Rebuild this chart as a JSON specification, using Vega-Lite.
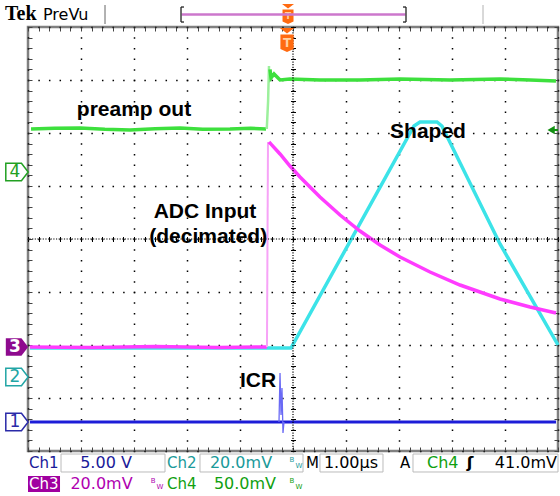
{
  "$schema": "https://vega.github.io/schema/vega-lite/v6.json",
  "width": 530,
  "height": 424,
  "autosize": "none",
  "padding": {"left": 28, "top": 27, "right": 2, "bottom": 45},
  "background": "white",
  "config": {"view": {"stroke": "#808080", "strokeWidth": 2.5}},
  "datasets": {
    "ch4a": [
      {"x": 0.057, "y": 2.075}, {"x": 0.5, "y": 2.09}, {"x": 0.981, "y": 2.094}, {"x": 1.45, "y": 2.07}, {"x": 1.925, "y": 2.057},
      {"x": 2.4, "y": 2.08}, {"x": 2.868, "y": 2.094}, {"x": 3.3, "y": 2.07}, {"x": 3.811, "y": 2.075}, {"x": 4.2, "y": 2.09},
      {"x": 4.491, "y": 2.075}
    ],
    "ch4e": [
      {"x": 4.505, "y": 2.075}, {"x": 4.53, "y": 2.6}, {"x": 4.547, "y": 3.264}
    ],
    "ch4b": [
      {"x": 4.566, "y": 3.2}, {"x": 4.585, "y": 3.038}, {"x": 4.642, "y": 3.113}, {"x": 4.755, "y": 3.0}, {"x": 4.943, "y": 3.019},
      {"x": 5.509, "y": 3.0}, {"x": 6.264, "y": 3.0}, {"x": 7.019, "y": 3.019}, {"x": 7.962, "y": 3.0}, {"x": 8.906, "y": 3.019},
      {"x": 9.472, "y": 3.0}, {"x": 9.962, "y": 2.981}
    ],
    "ch3a": [
      {"x": 0.038, "y": -2.038}, {"x": 1.2, "y": -2.045}, {"x": 2.4, "y": -2.03}, {"x": 3.6, "y": -2.045}, {"x": 4.509, "y": -2.038}
    ],
    "ch3e": [
      {"x": 4.509, "y": -2.038}, {"x": 4.528, "y": 1.83}
    ],
    "ch3b": [
      {"x": 4.547, "y": 1.83}, {"x": 4.585, "y": 1.79}, {"x": 4.755, "y": 1.604}, {"x": 4.943, "y": 1.377}, {"x": 5.132, "y": 1.17},
      {"x": 5.509, "y": 0.792}, {"x": 5.887, "y": 0.453}, {"x": 6.264, "y": 0.151}, {"x": 6.642, "y": -0.113}, {"x": 7.019, "y": -0.34},
      {"x": 7.585, "y": -0.623}, {"x": 8.151, "y": -0.868}, {"x": 8.906, "y": -1.132}, {"x": 9.472, "y": -1.283}, {"x": 9.962, "y": -1.396}
    ],
    "ch2": [
      {"x": 0.038, "y": -2.057}, {"x": 4.962, "y": -2.057}, {"x": 7.283, "y": 2.132}, {"x": 7.396, "y": 2.208},
      {"x": 7.717, "y": 2.208}, {"x": 7.81, "y": 2.132}, {"x": 8.906, "y": -0.094}, {"x": 10.0, "y": -2.0}
    ],
    "ch1": [
      {"x": 0.038, "y": -3.453}, {"x": 9.962, "y": -3.453}
    ],
    "icr": [
      {"x": 4.736, "y": -3.453}, {"x": 4.755, "y": -2.528}, {"x": 4.774, "y": -3.321}, {"x": 4.792, "y": -2.811},
      {"x": 4.811, "y": -3.66}, {"x": 4.83, "y": -3.453}
    ]
  },
  "resolve": {"axis": {"x": "independent", "y": "independent"}},
  "layer": [
    {
      "data": {"name": "ch2"},
      "mark": {"type": "line", "color": "#3ce3e8", "strokeWidth": 3.5},
      "encoding": {
        "x": {"field": "x", "type": "quantitative", "scale": {"domain": [0, 10], "nice": false, "zero": false},
          "axis": {"values": [0,1,2,3,4,5,6,7,8,9,10], "grid": true, "gridDash": [1.5, 9.1], "gridDashOffset": 0.75, "gridColor": "#000", "gridOpacity": 1, "gridWidth": 1.5, "domain": false, "ticks": false, "labels": false, "title": null}},
        "y": {"field": "y", "type": "quantitative", "scale": {"domain": [-4, 4], "nice": false, "zero": false},
          "axis": {"values": [-4,-3,-2,-1,0,1,2,3,4], "grid": true, "gridDash": [1.5, 9.1], "gridDashOffset": 0.75, "gridColor": "#000", "gridOpacity": 1, "gridWidth": 1.5, "domain": false, "ticks": false, "labels": false, "title": null}}
      }
    },
    {
      "data": {"name": "ch3a"},
      "mark": {"type": "line", "color": "#ff3cff", "strokeWidth": 3.5},
      "encoding": {
        "x": {"field": "x", "type": "quantitative", "scale": {"domain": [0, 10], "nice": false, "zero": false},
          "axis": {"orient": "top", "tickCount": 50, "ticks": true, "tickSize": -4, "tickColor": "#444", "tickWidth": 1, "domain": false, "labels": false, "grid": false, "title": null}},
        "y": {"field": "y", "type": "quantitative", "scale": {"domain": [-4, 4], "nice": false, "zero": false},
          "axis": {"orient": "right", "tickCount": 40, "ticks": true, "tickSize": -4, "tickColor": "#444", "tickWidth": 1, "domain": false, "labels": false, "grid": false, "title": null}}
      }
    },
    {
      "data": {"name": "ch3e"},
      "mark": {"type": "line", "color": "#f7a3f7", "strokeWidth": 2},
      "encoding": {
        "x": {"field": "x", "type": "quantitative", "scale": {"domain": [0, 10], "nice": false, "zero": false}, "axis": null},
        "y": {"field": "y", "type": "quantitative", "scale": {"domain": [-4, 4], "nice": false, "zero": false}, "axis": null}
      }
    },
    {
      "data": {"name": "ch3b"},
      "mark": {"type": "line", "color": "#ff3cff", "strokeWidth": 3.5},
      "encoding": {
        "x": {"field": "x", "type": "quantitative", "scale": {"domain": [0, 10], "nice": false, "zero": false}, "axis": null},
        "y": {"field": "y", "type": "quantitative", "scale": {"domain": [-4, 4], "nice": false, "zero": false}, "axis": null}
      }
    },
    {
      "data": {"name": "ch4a"},
      "mark": {"type": "line", "color": "#3de03d", "strokeWidth": 3.5},
      "encoding": {
        "x": {"field": "x", "type": "quantitative", "scale": {"domain": [0, 10], "nice": false, "zero": false},
          "axis": {"orient": "bottom", "tickCount": 50, "ticks": true, "tickSize": -4, "tickColor": "#444", "tickWidth": 1, "domain": false, "labels": false, "grid": false, "title": null}},
        "y": {"field": "y", "type": "quantitative", "scale": {"domain": [-4, 4], "nice": false, "zero": false},
          "axis": {"orient": "left", "tickCount": 40, "ticks": true, "tickSize": -4, "tickColor": "#444", "tickWidth": 1, "domain": false, "labels": false, "grid": false, "title": null}}
      }
    },
    {
      "data": {"name": "ch4e"},
      "mark": {"type": "line", "color": "#9cf09c", "strokeWidth": 2.5},
      "encoding": {
        "x": {"field": "x", "type": "quantitative", "scale": {"domain": [0, 10], "nice": false, "zero": false}, "axis": null},
        "y": {"field": "y", "type": "quantitative", "scale": {"domain": [-4, 4], "nice": false, "zero": false}, "axis": null}
      }
    },
    {
      "data": {"name": "ch4b"},
      "mark": {"type": "line", "color": "#3de03d", "strokeWidth": 3.5},
      "encoding": {
        "x": {"field": "x", "type": "quantitative", "scale": {"domain": [0, 10], "nice": false, "zero": false}, "axis": null},
        "y": {"field": "y", "type": "quantitative", "scale": {"domain": [-4, 4], "nice": false, "zero": false}, "axis": null}
      }
    },
    {
      "data": {"name": "ch1"},
      "mark": {"type": "line", "color": "#1c1cd8", "strokeWidth": 3},
      "encoding": {
        "x": {"field": "x", "type": "quantitative", "scale": {"domain": [0, 10], "nice": false, "zero": false},
          "axis": {"orient": "bottom", "offset": -214.5, "tickCount": 50, "ticks": true, "tickSize": 5, "tickColor": "#000", "tickWidth": 1, "domain": false, "labels": false, "grid": false, "title": null}},
        "y": {"field": "y", "type": "quantitative", "scale": {"domain": [-4, 4], "nice": false, "zero": false},
          "axis": {"orient": "left", "offset": -267.5, "tickCount": 40, "ticks": true, "tickSize": 5, "tickColor": "#000", "tickWidth": 1, "domain": false, "labels": false, "grid": false, "title": null}}
      }
    },
    {
      "data": {"name": "icr"},
      "mark": {"type": "line", "color": "#6a6af5", "strokeWidth": 1.3},
      "encoding": {
        "x": {"field": "x", "type": "quantitative", "scale": {"domain": [0, 10], "nice": false, "zero": false}, "axis": null},
        "y": {"field": "y", "type": "quantitative", "scale": {"domain": [-4, 4], "nice": false, "zero": false}, "axis": null}
      }
    },
    {
      "data": {"values": [{}]},
      "layer": [
        {
          "mark": {"type": "rule", "color": "#000", "strokeWidth": 1.2, "strokeDash": [1.2, 1.45]},
          "encoding": {"x": {"datum": 5, "type": "quantitative", "axis": null}}
        },
        {
          "mark": {"type": "rule", "color": "#000", "strokeWidth": 1.2, "strokeDash": [1.2, 1.45]},
          "encoding": {"y": {"datum": 0, "type": "quantitative", "axis": null}}
        },
        {
          "mark": {"type": "text", "text": "preamp out", "font": "Liberation Sans", "fontWeight": "bold", "fontSize": 21, "color": "#000", "align": "center", "baseline": "middle"},
          "encoding": {"x": {"datum": 2.0, "type": "quantitative", "axis": null}, "y": {"datum": 2.434, "type": "quantitative", "axis": null}}
        },
        {
          "mark": {"type": "text", "text": "Shaped", "font": "Liberation Sans", "fontWeight": "bold", "fontSize": 21, "color": "#000", "align": "center", "baseline": "middle"},
          "encoding": {"x": {"datum": 7.547, "type": "quantitative", "axis": null}, "y": {"datum": 2.019, "type": "quantitative", "axis": null}}
        },
        {
          "mark": {"type": "text", "text": "ADC Input", "font": "Liberation Sans", "fontWeight": "bold", "fontSize": 21, "color": "#000", "align": "center", "baseline": "middle"},
          "encoding": {"x": {"datum": 3.34, "type": "quantitative", "axis": null}, "y": {"datum": 0.509, "type": "quantitative", "axis": null}}
        },
        {
          "mark": {"type": "text", "text": "(decimated)", "font": "Liberation Sans", "fontWeight": "bold", "fontSize": 21, "color": "#000", "align": "center", "baseline": "middle"},
          "encoding": {"x": {"datum": 3.4, "type": "quantitative", "axis": null}, "y": {"datum": 0.038, "type": "quantitative", "axis": null}}
        },
        {
          "mark": {"type": "text", "text": "ICR", "font": "Liberation Sans", "fontWeight": "bold", "fontSize": 21, "color": "#000", "align": "center", "baseline": "middle"},
          "encoding": {"x": {"datum": 4.34, "type": "quantitative", "axis": null}, "y": {"datum": -2.679, "type": "quantitative", "axis": null}}
        },
        {
          "mark": {"type": "point", "shape": "M-1,-0.78L0.4,-0.78L1,0L0.4,0.78L-1,0.78Z", "size": 500, "filled": false, "stroke": "#22a022", "strokeWidth": 1.5, "fill": "white", "opacity": 1},
          "encoding": {"x": {"datum": -0.208, "type": "quantitative", "axis": null}, "y": {"datum": 1.264, "type": "quantitative", "axis": null}}
        },
        {
          "mark": {"type": "point", "shape": "M-1,-0.78L0.4,-0.78L1,0L0.4,0.78L-1,0.78Z", "size": 500, "filled": true, "color": "#8e0a8e", "opacity": 1},
          "encoding": {"x": {"datum": -0.208, "type": "quantitative", "axis": null}, "y": {"datum": -2.038, "type": "quantitative", "axis": null}}
        },
        {
          "mark": {"type": "point", "shape": "M-1,-0.78L0.4,-0.78L1,0L0.4,0.78L-1,0.78Z", "size": 500, "filled": false, "stroke": "#22a5a5", "strokeWidth": 1.5, "fill": "white", "opacity": 1},
          "encoding": {"x": {"datum": -0.208, "type": "quantitative", "axis": null}, "y": {"datum": -2.604, "type": "quantitative", "axis": null}}
        },
        {
          "mark": {"type": "point", "shape": "M-1,-0.78L0.4,-0.78L1,0L0.4,0.78L-1,0.78Z", "size": 500, "filled": false, "stroke": "#2a2aa8", "strokeWidth": 1.5, "fill": "white", "opacity": 1},
          "encoding": {"x": {"datum": -0.208, "type": "quantitative", "axis": null}, "y": {"datum": -3.453, "type": "quantitative", "axis": null}}
        },
        {
          "mark": {"type": "text", "text": "4", "font": "DejaVu Sans", "fontSize": 17, "color": "#22a022", "align": "center", "baseline": "middle", "dx": -2},
          "encoding": {"x": {"datum": -0.208, "type": "quantitative", "axis": null}, "y": {"datum": 1.264, "type": "quantitative", "axis": null}}
        },
        {
          "mark": {"type": "text", "text": "3", "font": "DejaVu Sans", "fontSize": 17, "fontWeight": "bold", "color": "#ffffff", "align": "center", "baseline": "middle", "dx": -2},
          "encoding": {"x": {"datum": -0.208, "type": "quantitative", "axis": null}, "y": {"datum": -2.038, "type": "quantitative", "axis": null}}
        },
        {
          "mark": {"type": "text", "text": "2", "font": "DejaVu Sans", "fontSize": 17, "color": "#22a5a5", "align": "center", "baseline": "middle", "dx": -2},
          "encoding": {"x": {"datum": -0.208, "type": "quantitative", "axis": null}, "y": {"datum": -2.604, "type": "quantitative", "axis": null}}
        },
        {
          "mark": {"type": "text", "text": "1", "font": "DejaVu Sans", "fontSize": 17, "color": "#2a2aa8", "align": "center", "baseline": "middle", "dx": -2},
          "encoding": {"x": {"datum": -0.208, "type": "quantitative", "axis": null}, "y": {"datum": -3.453, "type": "quantitative", "axis": null}}
        },
        {
          "mark": {"type": "point", "shape": "triangle-left", "size": 70, "filled": true, "color": "#129012", "opacity": 1},
          "encoding": {"x": {"datum": 9.87, "type": "quantitative", "axis": null}, "y": {"datum": 2.057, "type": "quantitative", "axis": null}}
        },
        {
          "mark": {"type": "rule", "color": "#129012", "strokeWidth": 2},
          "encoding": {"x": {"datum": 9.87, "type": "quantitative", "axis": null}, "x2": {"datum": 10.0}, "y": {"datum": 2.057, "type": "quantitative", "axis": null}}
        },
        {
          "mark": {"type": "point", "shape": "M-0.6,-1L0.6,-1L0,-0.55ZM-0.55,-0.45L0.55,-0.45L0.55,0.75L0,1L-0.55,0.75Z", "size": 400, "filled": true, "color": "#ff6a10", "opacity": 1},
          "encoding": {"x": {"datum": 4.906, "type": "quantitative", "axis": null}, "y": {"datum": 4.245, "type": "quantitative", "axis": null}}
        },
        {
          "mark": {"type": "point", "shape": "M-0.6,-1L0.6,-1L0,-0.55ZM-0.55,-0.45L0.55,-0.45L0.55,0.75L0,1L-0.55,0.75Z", "size": 576, "filled": true, "color": "#ff6a10", "opacity": 1},
          "encoding": {"x": {"datum": 4.887, "type": "quantitative", "axis": null}, "y": {"datum": 3.755, "type": "quantitative", "axis": null}}
        },
        {
          "mark": {"type": "text", "text": "T", "font": "DejaVu Sans", "fontSize": 9, "fontWeight": "bold", "color": "#ffd0a0", "align": "center", "baseline": "middle", "dy": 2},
          "encoding": {"x": {"datum": 4.906, "type": "quantitative", "axis": null}, "y": {"datum": 4.245, "type": "quantitative", "axis": null}}
        },
        {
          "mark": {"type": "text", "text": "T", "font": "DejaVu Sans", "fontSize": 12, "fontWeight": "bold", "color": "#ffd0a0", "align": "center", "baseline": "middle", "dy": 3},
          "encoding": {"x": {"datum": 4.887, "type": "quantitative", "axis": null}, "y": {"datum": 3.755, "type": "quantitative", "axis": null}}
        },
        {
          "mark": {"type": "text", "text": "Tek", "font": "Liberation Serif", "fontWeight": "bold", "fontSize": 20, "color": "#000", "align": "left", "baseline": "alphabetic"},
          "encoding": {"x": {"datum": -0.434, "type": "quantitative", "axis": null}, "y": {"datum": 4.132, "type": "quantitative", "axis": null}}
        },
        {
          "mark": {"type": "text", "text": "PreVu", "font": "DejaVu Sans", "fontSize": 16, "color": "#000", "align": "left", "baseline": "alphabetic"},
          "encoding": {"x": {"datum": 0.283, "type": "quantitative", "axis": null}, "y": {"datum": 4.132, "type": "quantitative", "axis": null}}
        },
        {
          "mark": {"type": "rule", "color": "#999", "strokeWidth": 1.5},
          "encoding": {"x": {"datum": 1.453, "type": "quantitative", "axis": null}, "y": {"datum": 4.415, "type": "quantitative", "axis": null}, "y2": {"datum": 4.057}}
        },
        {
          "mark": {"type": "rule", "color": "#ccc", "strokeWidth": 1.5},
          "encoding": {"x": {"datum": 8.585, "type": "quantitative", "axis": null}, "y": {"datum": 4.415, "type": "quantitative", "axis": null}, "y2": {"datum": 4.057}}
        },
        {
          "mark": {"type": "rule", "color": "#cc77cc", "strokeWidth": 2.5},
          "encoding": {"x": {"datum": 2.9, "type": "quantitative", "axis": null}, "x2": {"datum": 7.12}, "y": {"datum": 4.236, "type": "quantitative", "axis": null}}
        },
        {
          "mark": {"type": "rule", "color": "#222", "strokeWidth": 1.3},
          "encoding": {"x": {"datum": 2.887, "type": "quantitative", "axis": null}, "y": {"datum": 4.377, "type": "quantitative", "axis": null}, "y2": {"datum": 4.094}}
        },
        {
          "mark": {"type": "rule", "color": "#222", "strokeWidth": 1.3},
          "encoding": {"x": {"datum": 2.887, "type": "quantitative", "axis": null}, "x2": {"datum": 2.943}, "y": {"datum": 4.377, "type": "quantitative", "axis": null}}
        },
        {
          "mark": {"type": "rule", "color": "#222", "strokeWidth": 1.3},
          "encoding": {"x": {"datum": 2.887, "type": "quantitative", "axis": null}, "x2": {"datum": 2.943}, "y": {"datum": 4.094, "type": "quantitative", "axis": null}}
        },
        {
          "mark": {"type": "rule", "color": "#222", "strokeWidth": 1.3},
          "encoding": {"x": {"datum": 7.132, "type": "quantitative", "axis": null}, "y": {"datum": 4.377, "type": "quantitative", "axis": null}, "y2": {"datum": 4.094}}
        },
        {
          "mark": {"type": "rule", "color": "#222", "strokeWidth": 1.3},
          "encoding": {"x": {"datum": 7.075, "type": "quantitative", "axis": null}, "x2": {"datum": 7.132}, "y": {"datum": 4.377, "type": "quantitative", "axis": null}}
        },
        {
          "mark": {"type": "rule", "color": "#222", "strokeWidth": 1.3},
          "encoding": {"x": {"datum": 7.075, "type": "quantitative", "axis": null}, "x2": {"datum": 7.132}, "y": {"datum": 4.094, "type": "quantitative", "axis": null}}
        },
        {
          "mark": {"type": "rect", "fill": "white", "stroke": "#bbbbbb", "strokeWidth": 1},
          "encoding": {"x": {"datum": 0.623, "type": "quantitative", "axis": null}, "x2": {"datum": 2.585}, "y": {"datum": -4.057, "type": "quantitative", "axis": null}, "y2": {"datum": -4.396}}
        },
        {
          "mark": {"type": "rect", "fill": "white", "stroke": "#bbbbbb", "strokeWidth": 1},
          "encoding": {"x": {"datum": 3.245, "type": "quantitative", "axis": null}, "x2": {"datum": 5.189}, "y": {"datum": -4.057, "type": "quantitative", "axis": null}, "y2": {"datum": -4.396}}
        },
        {
          "mark": {"type": "rect", "fill": "white", "stroke": "#bbbbbb", "strokeWidth": 1},
          "encoding": {"x": {"datum": 5.509, "type": "quantitative", "axis": null}, "x2": {"datum": 6.698}, "y": {"datum": -4.057, "type": "quantitative", "axis": null}, "y2": {"datum": -4.396}}
        },
        {
          "mark": {"type": "rect", "fill": "white", "stroke": "#bbbbbb", "strokeWidth": 1},
          "encoding": {"x": {"datum": 7.264, "type": "quantitative", "axis": null}, "x2": {"datum": 10.0}, "y": {"datum": -4.057, "type": "quantitative", "axis": null}, "y2": {"datum": -4.396}}
        },
        {
          "mark": {"type": "rect", "fill": "#a000a0"},
          "encoding": {"x": {"datum": 0.0, "type": "quantitative", "axis": null}, "x2": {"datum": 0.604}, "y": {"datum": -4.472, "type": "quantitative", "axis": null}, "y2": {"datum": -4.774}}
        },
        {
          "mark": {"type": "text", "text": "Ch1", "font": "DejaVu Sans", "fontSize": 15, "color": "#1a1a99", "align": "left", "baseline": "middle"},
          "encoding": {"x": {"datum": 0.019, "type": "quantitative", "axis": null}, "y": {"datum": -4.226, "type": "quantitative", "axis": null}}
        },
        {
          "mark": {"type": "text", "text": "5.00 V", "font": "DejaVu Sans", "fontSize": 16, "color": "#1a1a99", "align": "center", "baseline": "middle"},
          "encoding": {"x": {"datum": 1.472, "type": "quantitative", "axis": null}, "y": {"datum": -4.226, "type": "quantitative", "axis": null}}
        },
        {
          "mark": {"type": "text", "text": "Ch2", "font": "DejaVu Sans", "fontSize": 15, "color": "#1a9a9a", "align": "left", "baseline": "middle"},
          "encoding": {"x": {"datum": 2.623, "type": "quantitative", "axis": null}, "y": {"datum": -4.226, "type": "quantitative", "axis": null}}
        },
        {
          "mark": {"type": "text", "text": "20.0mV", "font": "DejaVu Sans", "fontSize": 16, "color": "#1a9a9a", "align": "center", "baseline": "middle"},
          "encoding": {"x": {"datum": 4.019, "type": "quantitative", "axis": null}, "y": {"datum": -4.226, "type": "quantitative", "axis": null}}
        },
        {
          "mark": {"type": "text", "text": "B", "font": "DejaVu Sans", "fontSize": 7, "color": "#1a9a9a", "align": "center", "baseline": "middle"},
          "encoding": {"x": {"datum": 4.98, "type": "quantitative", "axis": null}, "y": {"datum": -4.17, "type": "quantitative", "axis": null}}
        },
        {
          "mark": {"type": "text", "text": "W", "font": "DejaVu Sans", "fontSize": 7, "color": "#1a9a9a", "align": "center", "baseline": "middle"},
          "encoding": {"x": {"datum": 5.113, "type": "quantitative", "axis": null}, "y": {"datum": -4.29, "type": "quantitative", "axis": null}}
        },
        {
          "mark": {"type": "text", "text": "M", "font": "DejaVu Sans", "fontSize": 15, "color": "#000", "align": "left", "baseline": "middle"},
          "encoding": {"x": {"datum": 5.245, "type": "quantitative", "axis": null}, "y": {"datum": -4.226, "type": "quantitative", "axis": null}}
        },
        {
          "mark": {"type": "text", "text": "1.00µs", "font": "DejaVu Sans", "fontSize": 16, "color": "#000", "align": "center", "baseline": "middle"},
          "encoding": {"x": {"datum": 6.094, "type": "quantitative", "axis": null}, "y": {"datum": -4.226, "type": "quantitative", "axis": null}}
        },
        {
          "mark": {"type": "text", "text": "A", "font": "DejaVu Sans", "fontSize": 15, "color": "#000", "align": "left", "baseline": "middle"},
          "encoding": {"x": {"datum": 7.019, "type": "quantitative", "axis": null}, "y": {"datum": -4.226, "type": "quantitative", "axis": null}}
        },
        {
          "mark": {"type": "text", "text": "Ch4", "font": "DejaVu Sans", "fontSize": 16, "color": "#10a010", "align": "left", "baseline": "middle"},
          "encoding": {"x": {"datum": 7.528, "type": "quantitative", "axis": null}, "y": {"datum": -4.226, "type": "quantitative", "axis": null}}
        },
        {
          "mark": {"type": "text", "text": "ʃ", "font": "DejaVu Sans", "fontSize": 16, "fontWeight": "bold", "color": "#000", "align": "center", "baseline": "middle"},
          "encoding": {"x": {"datum": 8.34, "type": "quantitative", "axis": null}, "y": {"datum": -4.226, "type": "quantitative", "axis": null}}
        },
        {
          "mark": {"type": "text", "text": "41.0mV", "font": "DejaVu Sans", "fontSize": 16, "color": "#000", "align": "right", "baseline": "middle"},
          "encoding": {"x": {"datum": 9.981, "type": "quantitative", "axis": null}, "y": {"datum": -4.226, "type": "quantitative", "axis": null}}
        },
        {
          "mark": {"type": "text", "text": "Ch3", "font": "DejaVu Sans", "fontSize": 15, "color": "#ffffff", "align": "left", "baseline": "middle"},
          "encoding": {"x": {"datum": 0.019, "type": "quantitative", "axis": null}, "y": {"datum": -4.623, "type": "quantitative", "axis": null}}
        },
        {
          "mark": {"type": "text", "text": "20.0mV", "font": "DejaVu Sans", "fontSize": 16, "color": "#b000b0", "align": "center", "baseline": "middle"},
          "encoding": {"x": {"datum": 1.387, "type": "quantitative", "axis": null}, "y": {"datum": -4.623, "type": "quantitative", "axis": null}}
        },
        {
          "mark": {"type": "text", "text": "B", "font": "DejaVu Sans", "fontSize": 7, "color": "#b000b0", "align": "center", "baseline": "middle"},
          "encoding": {"x": {"datum": 2.36, "type": "quantitative", "axis": null}, "y": {"datum": -4.566, "type": "quantitative", "axis": null}}
        },
        {
          "mark": {"type": "text", "text": "W", "font": "DejaVu Sans", "fontSize": 7, "color": "#b000b0", "align": "center", "baseline": "middle"},
          "encoding": {"x": {"datum": 2.49, "type": "quantitative", "axis": null}, "y": {"datum": -4.686, "type": "quantitative", "axis": null}}
        },
        {
          "mark": {"type": "text", "text": "Ch4", "font": "DejaVu Sans", "fontSize": 15, "color": "#10a010", "align": "left", "baseline": "middle"},
          "encoding": {"x": {"datum": 2.623, "type": "quantitative", "axis": null}, "y": {"datum": -4.623, "type": "quantitative", "axis": null}}
        },
        {
          "mark": {"type": "text", "text": "50.0mV", "font": "DejaVu Sans", "fontSize": 16, "color": "#10a010", "align": "center", "baseline": "middle"},
          "encoding": {"x": {"datum": 4.094, "type": "quantitative", "axis": null}, "y": {"datum": -4.623, "type": "quantitative", "axis": null}}
        },
        {
          "mark": {"type": "text", "text": "B", "font": "DejaVu Sans", "fontSize": 7, "color": "#10a010", "align": "center", "baseline": "middle"},
          "encoding": {"x": {"datum": 4.98, "type": "quantitative", "axis": null}, "y": {"datum": -4.566, "type": "quantitative", "axis": null}}
        },
        {
          "mark": {"type": "text", "text": "W", "font": "DejaVu Sans", "fontSize": 7, "color": "#10a010", "align": "center", "baseline": "middle"},
          "encoding": {"x": {"datum": 5.113, "type": "quantitative", "axis": null}, "y": {"datum": -4.686, "type": "quantitative", "axis": null}}
        }
      ]
    }
  ]
}
